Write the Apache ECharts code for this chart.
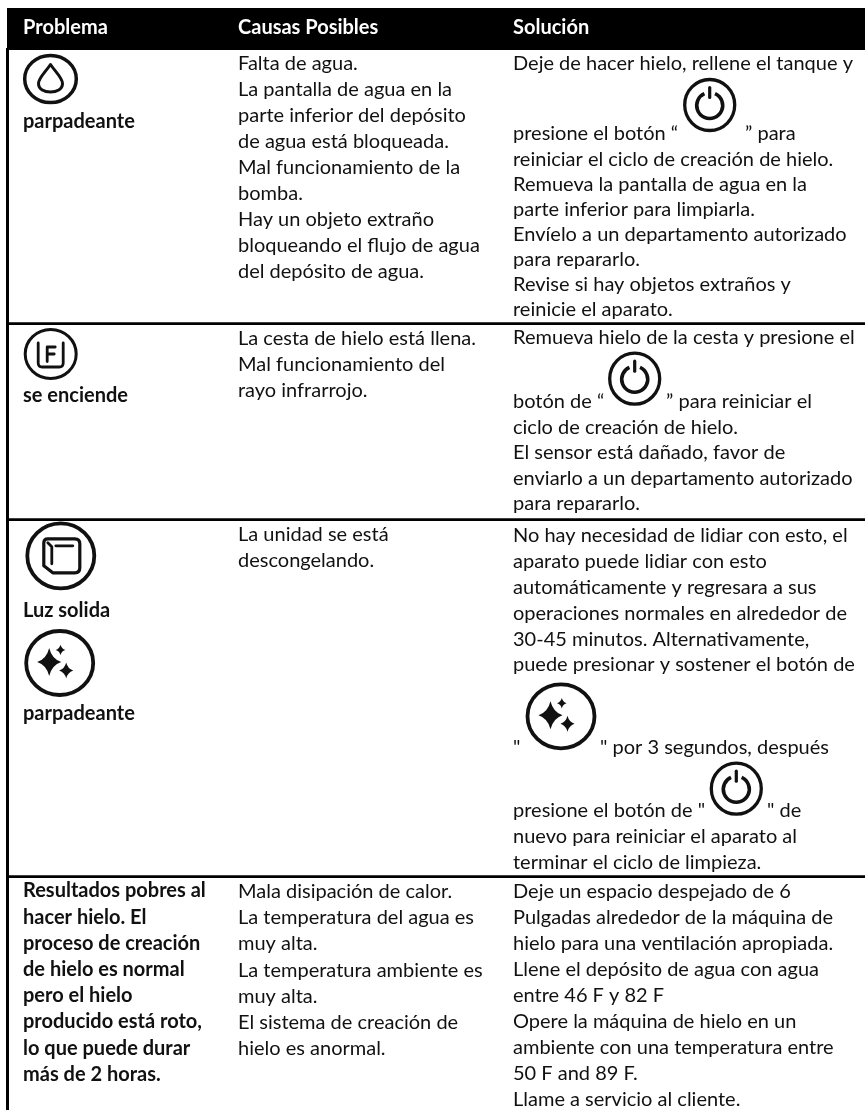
<!DOCTYPE html>
<html>
<head>
<meta charset="utf-8">
<title>Problema</title>
<script src="https://cdn.jsdelivr.net/npm/echarts@6/dist/echarts.min.js"></script>
<style>
html,body{margin:0;padding:0;background:#fff;}
#tableMain{width:865px;height:1110px;}
</style>
</head>
<body>
<div id="tableMain"></div>
<script>
// 表头
var headers = ['Problema', 'Causas Posibles', 'Solución'];

// 第一列文字
var problema1 = ['parpadeante'];
var problema2 = ['se enciende'];
var problema3a = ['Luz solida'];
var problema3b = ['parpadeante'];
var problema4 = ['Resultados pobres al', 'hacer hielo. El', 'proceso de creación', 'de hielo es normal', 'pero el hielo', 'producido está roto,', 'lo que puede durar', 'más de 2 horas.'];

// 第二列文字
var causas1 = ['Falta de agua.', 'La pantalla de agua en la', 'parte inferior del depósito', 'de agua está bloqueada.', 'Mal funcionamiento de la', 'bomba.', 'Hay un objeto extraño', 'bloqueando el flujo de agua', 'del depósito de agua.'];
var causas2 = ['La cesta de hielo está llena.', 'Mal funcionamiento del', 'rayo infrarrojo.'];
var causas3 = ['La unidad se está', 'descongelando.'];
var causas4 = ['Mala disipación de calor.', 'La temperatura del agua es', 'muy alta.', 'La temperatura ambiente es', 'muy alta.', 'El sistema de creación de', 'hielo es anormal.'];

// 第三列文字,数组项为图标前后两段
var solucion1 = ['Deje de hacer hielo, rellene el tanque y', ['presione el botón “', '” para'], 'reiniciar el ciclo de creación de hielo.', 'Remueva la pantalla de agua en la', 'parte inferior para limpiarla.', 'Envíelo a un departamento autorizado', 'para repararlo.', 'Revise si hay objetos extraños y', 'reinicie el aparato.'];
var solucion2 = ['Remueva hielo de la cesta y presione el', ['botón de “', '” para reiniciar el'], 'ciclo de creación de hielo.', 'El sensor está dañado, favor de', 'enviarlo a un departamento autorizado', 'para repararlo.'];
var solucion3 = ['No hay necesidad de lidiar con esto, el', 'aparato puede lidiar con esto', 'automáticamente y regresara a sus', 'operaciones normales en alrededor de', '30-45 minutos. Alternativamente,', 'puede presionar y sostener el botón de', ['"', '" por 3 segundos, después'], ['presione el botón de "', '" de'], 'nuevo para reiniciar el aparato al', 'terminar el ciclo de limpieza.'];
var solucion4 = ['Deje un espacio despejado de 6', 'Pulgadas alrededor de la máquina de', 'hielo para una ventilación apropiada.', 'Llene el depósito de agua con agua', 'entre 46 F y 82 F', 'Opere la máquina de hielo en un', 'ambiente con una temperatura entre', '50 F and 89 F.', 'Llame a servicio al cliente.'];

// 布局
var colX = [23, 238, 513];
var pitch = 25.9;
var ruleY = [323.6, 519.5, 876.6];
var fontRegular = '20px Lato';
var fontBold = 'bold 20px Lato';
var baselineShift = 16; // 文字top到基线的距离
var inkColor = '#111';

var els = [];
var shapeCnt = 0;

function addText(x, y, str, font, color){
    els.push({type:'text', x:x, y:y-baselineShift, silent:true,
        style:{text:str, font:font, fill:color||inkColor, textVerticalAlign:'top', textAlign:'left'}});
}
// gaps: 某行之前的额外间距; tailX: 图标后一段的x
function addCell(lines, x, startY, font, linePitch, gaps, tailX){
    var y = startY;
    for(var i=0;i<lines.length;i++){
        if(gaps && gaps[i])y += gaps[i];
        var l = lines[i];
        if(typeof(l)=='string'){
            addText(x, y, l, font);
        }else{
            addText(x, y, l[0], font);
            addText(tailX[i], y, l[1], font);
        }
        y += linePitch;
    }
}
function addPath(d, style){
    var name = 'iconPath'+(shapeCnt++);
    echarts.graphic.registerShape(name, echarts.graphic.extendPath(d, {}));
    els.push({type:name, silent:true, style:style});
}
function addStroke(d, w){
    addPath(d, {fill:'none', stroke:inkColor, lineWidth:w, lineCap:'round', lineJoin:'round'});
}
function addRing(cx, cy, rx, ry, w){
    els.push({type:'ellipse', silent:true, shape:{cx:cx, cy:cy, rx:rx, ry:ry},
        style:{fill:'none', stroke:inkColor, lineWidth:w}});
}
function addStar(cx, cy, hx, hy){
    var k = 0.22;
    var d = 'M'+cx+' '+(cy-hy)
        +'Q'+(cx+hx*k)+' '+(cy-hy*k)+' '+(cx+hx)+' '+cy
        +'Q'+(cx+hx*k)+' '+(cy+hy*k)+' '+cx+' '+(cy+hy)
        +'Q'+(cx-hx*k)+' '+(cy+hy*k)+' '+(cx-hx)+' '+cy
        +'Q'+(cx-hx*k)+' '+(cy-hy*k)+' '+cx+' '+(cy-hy)+'Z';
    addPath(d, {fill:inkColor});
}
function addPowerIcon(cx, cy){
    addRing(cx, cy, 25, 25.5, 3.3);
    // 内圈上方留缺口
    els.push({type:'arc', silent:true,
        shape:{cx:cx, cy:cy+0.5, r:13, startAngle:-Math.PI/2+0.42, endAngle:-Math.PI/2-0.42, clockwise:true},
        style:{fill:'none', stroke:inkColor, lineWidth:3.6}});
    addStroke('M'+cx+' '+(cy-17.5)+'L'+cx+' '+(cy-7.5), 3.2);
}
function addSparkleIcon(cx, cy){
    addRing(cx, cy, 33.5, 32, 3.8);
    addStar(cx-10.5, cy-1, 12, 14);
    addStar(cx+0.8, cy-13, 4.8, 5.2);
    addStar(cx+6.5, cy+7.5, 7, 8);
}
function addDropIcon(cx, cy){
    addRing(cx, cy, 25.8, 23.6, 3.5);
    addStroke('M'+cx+' '+(cy-14.5)
        +'C'+(cx+5)+' '+(cy-7)+' '+(cx+12)+' '+(cy-1)+' '+(cx+12)+' '+(cy+4.5)
        +'C'+(cx+12)+' '+(cy+10.5)+' '+(cx+6)+' '+(cy+13)+' '+cx+' '+(cy+13)
        +'C'+(cx-6)+' '+(cy+13)+' '+(cx-12)+' '+(cy+10.5)+' '+(cx-12)+' '+(cy+4.5)
        +'C'+(cx-12)+' '+(cy-1)+' '+(cx-5)+' '+(cy-7)+' '+cx+' '+(cy-14.5)+'Z', 3);
}
function addFullIcon(cx, cy){
    addRing(cx, cy, 25.5, 24.5, 3);
    addStroke('M'+(cx-12.5)+' '+(cy-11)+'L'+(cx-12.5)+' '+(cy+9)+'Q'+(cx-12.5)+' '+(cy+13)+' '+(cx-8.5)+' '+(cy+13)
        +'L'+(cx+8.5)+' '+(cy+13)+'Q'+(cx+12.5)+' '+(cy+13)+' '+(cx+12.5)+' '+(cy+9)+'L'+(cx+12.5)+' '+(cy-11), 2.8);
    addStroke('M'+(cx+4.5)+' '+(cy-7)+'L'+(cx-3.5)+' '+(cy-7)+'L'+(cx-3.5)+' '+(cy+7.5)+'M'+(cx-3.5)+' '+(cy)+'L'+(cx+3.5)+' '+(cy), 2.8);
}
function addCubeIcon(cx, cy){
    addRing(cx, cy, 33.5, 32.5, 3.8);
    addStroke('M'+(cx-13)+' '+(cy-17)+'L'+(cx+14)+' '+(cy-17)+'Q'+(cx+19)+' '+(cy-17)+' '+(cx+19)+' '+(cy-12)
        +'L'+(cx+19)+' '+(cy+12)+'Q'+(cx+19)+' '+(cy+17)+' '+(cx+14)+' '+(cy+17)
        +'L'+(cx-8)+' '+(cy+17)+'L'+(cx-17)+' '+(cy+10)+'L'+(cx-17)+' '+(cy-13)+'Q'+(cx-17)+' '+(cy-17)+' '+(cx-13)+' '+(cy-17)+'Z', 3.2);
    addStroke('M'+(cx-13)+' '+(cy-13)+'L'+(cx-9)+' '+(cy-9)+'L'+(cx-9)+' '+(cy+8), 2.8);
    addStroke('M'+(cx-5)+' '+(cy-10)+'L'+(cx+12)+' '+(cy-10), 2.8);
}

// 表头和边框
els.push({type:'rect', silent:true, shape:{x:7, y:8, width:858, height:42}, style:{fill:'#000'}});
els.push({type:'rect', silent:true, shape:{x:6, y:48, width:3, height:1062}, style:{fill:'#000'}});
for(var r=0;r<ruleY.length;r++){
    els.push({type:'rect', silent:true, shape:{x:7, y:ruleY[r]-1.3, width:858, height:2.7}, style:{fill:'#000'}});
}
for(var h=0;h<headers.length;h++){
    addText(colX[h], 34, headers[h], fontBold, '#fff');
}

// 第一列
addCell(problema1, colX[0], 128, fontBold, pitch);
addCell(problema2, colX[0], 401.5, fontBold, pitch);
addCell(problema3a, colX[0], 617, fontBold, pitch);
addCell(problema3b, colX[0], 720, fontBold, pitch);
addCell(problema4, colX[0], 897, fontBold, 26.2);
addDropIcon(50.5, 79);
addFullIcon(50.7, 354);
addCubeIcon(60.8, 555.8);
addSparkleIcon(59.7, 663);

// 第二列
addCell(causas1, colX[1], 70, fontRegular, pitch);
addCell(causas2, colX[1], 344.5, fontRegular, pitch);
addCell(causas3, colX[1], 541, fontRegular, pitch);
addCell(causas4, colX[1], 897.5, fontRegular, 26.2);

// 第三列
addCell(solucion1, colX[2], 70, fontRegular, 25.1, {1:44.9}, {1:745});
addCell(solucion2, colX[2], 344, fontRegular, 25.5, {1:38.5}, {1:666});
addCell(solucion3, colX[2], 541.5, fontRegular, pitch, {6:57, 7:37}, {6:600, 7:767});
addCell(solucion4, colX[2], 898, fontRegular, pitch);
addPowerIcon(709.7, 105);
addPowerIcon(634.7, 378.7);
addSparkleIcon(561, 716.3);
addPowerIcon(736.3, 788.7);

var myChart = echarts.init(document.getElementById('tableMain'));
myChart.setOption({
    backgroundColor:'#fff',
    animation:false,
    graphic:{elements:els}
});
</script>
</body>
</html>
